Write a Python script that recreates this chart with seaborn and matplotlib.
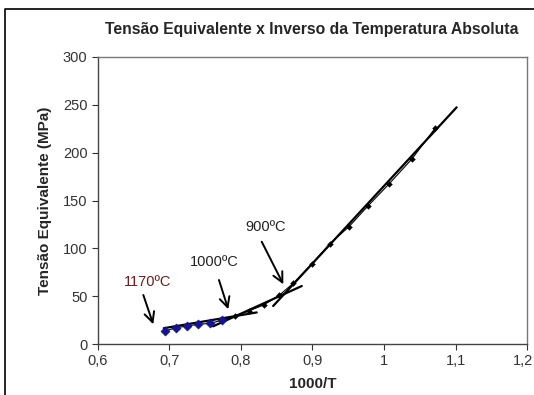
import matplotlib
matplotlib.use("Agg")
import matplotlib.pyplot as plt
import matplotlib.transforms as mtransforms
import seaborn as sns
import pandas as pd
from matplotlib.lines import Line2D

sns.set_style("white")
plt.rcParams['font.family'] = ['Liberation Sans', 'DejaVu Sans']

# data
x_blue = [0.694, 0.709, 0.7245, 0.740, 0.757, 0.774]
y_blue = [13.6, 17.0, 18.8, 20.6, 21.6, 25.0]
x_black = [0.7916, 0.8117, 0.8317, 0.8536, 0.873, 0.899, 0.9245, 0.951, 0.978, 1.0074, 1.039, 1.0713]
y_black = [29.0, 34.8, 40.8, 51.0, 63.4, 83.6, 105.0, 122.6, 144.6, 167.6, 193.4, 225.4]

fit1_x = [0.692, 0.822]
fit1_y = [16.5, 33.0]
fit2_x = [0.761, 0.885]
fit2_y = [18.5, 60.6]
fit3_x = [0.845, 1.1016]
fit3_y = [39.7, 247.4]

labels = ["1170ºC", "1000ºC", "900ºC"]
label_pos = [(0.670, 64.8), (0.762, 85.7), (0.835, 122.3)]
arrow_start = [(0.6634, 51.2), (0.7692, 66.9), (0.829, 106.9)]
arrow_end = [(0.6773, 20.6), (0.7822, 36.3), (0.8592, 62.4)]
label_colors = ["#6b1c1c", "#222222", "#222222"]

x_ticks = [0.6, 0.7, 0.8, 0.9, 1.0, 1.1, 1.2]
x_ticklabels = ["0,6", "0,7", "0,8", "0,9", "1", "1,1", "1,2"]
y_ticks = [0, 50, 100, 150, 200, 250, 300]

fig = plt.figure(figsize=(5.34, 3.95), dpi=100)
ax = fig.add_axes([0.1835, 0.1291, 0.9869 - 0.1835, 0.8557 - 0.1291])

all_x = x_blue + x_black
all_y = y_blue + y_black
df = pd.DataFrame({"x": all_x, "y": all_y})
sns.lineplot(data=df, x="x", y="y", sort=False, color="black", linewidth=0.8, ax=ax)
sns.scatterplot(x=x_blue, y=y_blue, marker="D", color="#14148c", s=22, edgecolor="#14148c", ax=ax, zorder=5)
sns.scatterplot(x=x_black, y=y_black, marker="D", color="black", s=9, edgecolor="black", ax=ax, zorder=5)

for fx, fy in [(fit1_x, fit1_y), (fit2_x, fit2_y), (fit3_x, fit3_y)]:
    sns.lineplot(x=fx, y=fy, color="black", linewidth=1.6, ax=ax)

for lab, pos, s, e, c in zip(labels, label_pos, arrow_start, arrow_end, label_colors):
    ax.text(pos[0], pos[1], lab, ha="center", va="center", fontsize=10.5, color=c)
    ax.annotate("", xy=e, xytext=s,
                arrowprops=dict(arrowstyle="->", color="black", lw=1.4, mutation_scale=18,
                                shrinkA=0, shrinkB=0))

ax.set_xlim(0.6, 1.2)
ax.set_ylim(0, 300)
ax.set_xticks(x_ticks)
ax.set_xticklabels(x_ticklabels)
ax.set_yticks(y_ticks)
ax.tick_params(axis="both", direction="out", length=4, width=0.8, color="#333333",
               labelsize=10.5, labelcolor="#333333", bottom=True, left=True)
last = ax.get_xticklabels()[-1]
last.set_transform(last.get_transform() + mtransforms.ScaledTranslation(-4 / 100, 0, fig.dpi_scale_trans))
ax.set_xlabel("1000/T", fontsize=11, fontweight="bold", labelpad=6)
ax.set_ylabel("Tensão Equivalente (MPa)", fontsize=11, fontweight="bold", labelpad=8)
for side in ["left", "bottom"]:
    ax.spines[side].set_color("#444444")
    ax.spines[side].set_linewidth(1.0)
for side in ["top", "right"]:
    ax.spines[side].set_color("#777777")
    ax.spines[side].set_linewidth(1.0)

fig.text(0.583, 0.925, "Tensão Equivalente x Inverso da Temperatura Absoluta",
         ha="center", va="center", fontsize=11.3, fontweight="bold")

fig.add_artist(Line2D([0.0094, 0.0094, 1.0], [0.0, 0.977, 0.977],
                      transform=fig.transFigure, color="black", linewidth=1.2))

fig.savefig("out.png", dpi=100)
